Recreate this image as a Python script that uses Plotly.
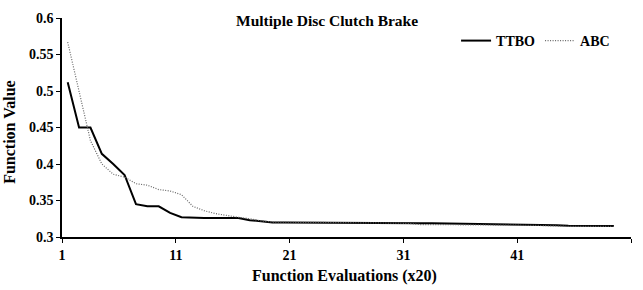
import plotly.graph_objects as go

# Category index (1..49), plotted between tick marks (category i at i + 0.5)
iterations = list(range(1, 50))

ttbo = [0.512, 0.450, 0.450, 0.414, 0.400, 0.385, 0.345, 0.342, 0.342, 0.333,
        0.327, 0.326, 0.326, 0.326, 0.326, 0.326, 0.323, 0.321, 0.320, 0.320,
        0.320, 0.320, 0.320, 0.320, 0.3198, 0.3196, 0.3195, 0.3194, 0.3193, 0.3192,
        0.319, 0.319, 0.3188, 0.3186, 0.3185, 0.3184, 0.3182, 0.318, 0.3175, 0.317,
        0.3167, 0.3165, 0.3162, 0.316, 0.3155, 0.3152, 0.315, 0.315, 0.315]

abc = [0.567, 0.500, 0.432, 0.400, 0.386, 0.382, 0.373, 0.371, 0.365, 0.363,
       0.358, 0.342, 0.336, 0.332, 0.329, 0.327, 0.325, 0.322, 0.3205, 0.320,
       0.320, 0.320, 0.320, 0.320, 0.3198, 0.3196, 0.3195, 0.3194, 0.3193, 0.319,
       0.3185, 0.317, 0.317, 0.317, 0.3168, 0.3167, 0.3166, 0.3165, 0.3165, 0.3163,
       0.3162, 0.316, 0.3155, 0.3148, 0.3146, 0.3146, 0.3146, 0.3146, 0.3146]

x_ticks = [1, 11, 21, 31, 41, 51]
x_tick_text = ["1", "11", "21", "31", "41", ""]
y_ticks = [0.3, 0.35, 0.4, 0.45, 0.5, 0.55, 0.6]
y_tick_text = ["0.3", "0.35", "0.4", "0.45", "0.5", "0.55", "0.6"]

xpos = [i + 0.5 for i in iterations]
FONT = "Liberation Serif"

fig = go.Figure()
fig.add_trace(go.Scatter(x=xpos, y=ttbo, mode="lines", name="TTBO",
                         line=dict(color="black", width=2)))
fig.add_trace(go.Scatter(x=xpos, y=abc, mode="lines", name="ABC",
                         line=dict(color="#666666", width=1.2, dash="1px,1.5px")))

fig.update_layout(
    width=643, height=290,
    margin=dict(l=62, r=12, t=11, b=53),
    paper_bgcolor="white", plot_bgcolor="white",
    font=dict(family=FONT, size=14, color="black", weight="bold"),
    showlegend=True,
    legend=dict(orientation="h", x=0.972, xanchor="right", y=0.895, yanchor="middle",
                bgcolor="rgba(0,0,0,0)", font=dict(size=14, family=FONT, weight="bold"),
                itemwidth=30, tracegroupgap=0),
    xaxis=dict(range=[1, 51], tickvals=x_ticks, ticktext=x_tick_text,
               showgrid=False, zeroline=False, showline=True, linecolor="black",
               linewidth=1.5, ticks="outside", ticklen=4, tickcolor="black",
               tickfont=dict(size=14, family=FONT, weight="bold")),
    yaxis=dict(range=[0.3, 0.6], tickvals=y_ticks, ticktext=y_tick_text,
               showgrid=False, zeroline=False, showline=True, linecolor="black",
               linewidth=1.5, ticks="outside", ticklen=4, tickcolor="black",
               tickfont=dict(size=14, family=FONT, weight="bold")),
    annotations=[
        dict(text="Multiple Disc Clutch Brake", x=0.466, y=0.99, xref="paper", yref="paper",
             xanchor="center", yanchor="middle", showarrow=False,
             font=dict(size=15.5, family=FONT, weight="bold")),
        dict(text="Function Evaluations (x20)", x=0.496, y=-0.177, xref="paper", yref="paper",
             xanchor="center", yanchor="middle", showarrow=False,
             font=dict(size=16, family=FONT, weight="bold")),
        dict(text="Function Value", x=-0.0914, y=0.48, xref="paper", yref="paper",
             xanchor="center", yanchor="middle", showarrow=False, textangle=-90,
             font=dict(size=16, family=FONT, weight="bold")),
    ],
)

fig.write_html("out.html")
